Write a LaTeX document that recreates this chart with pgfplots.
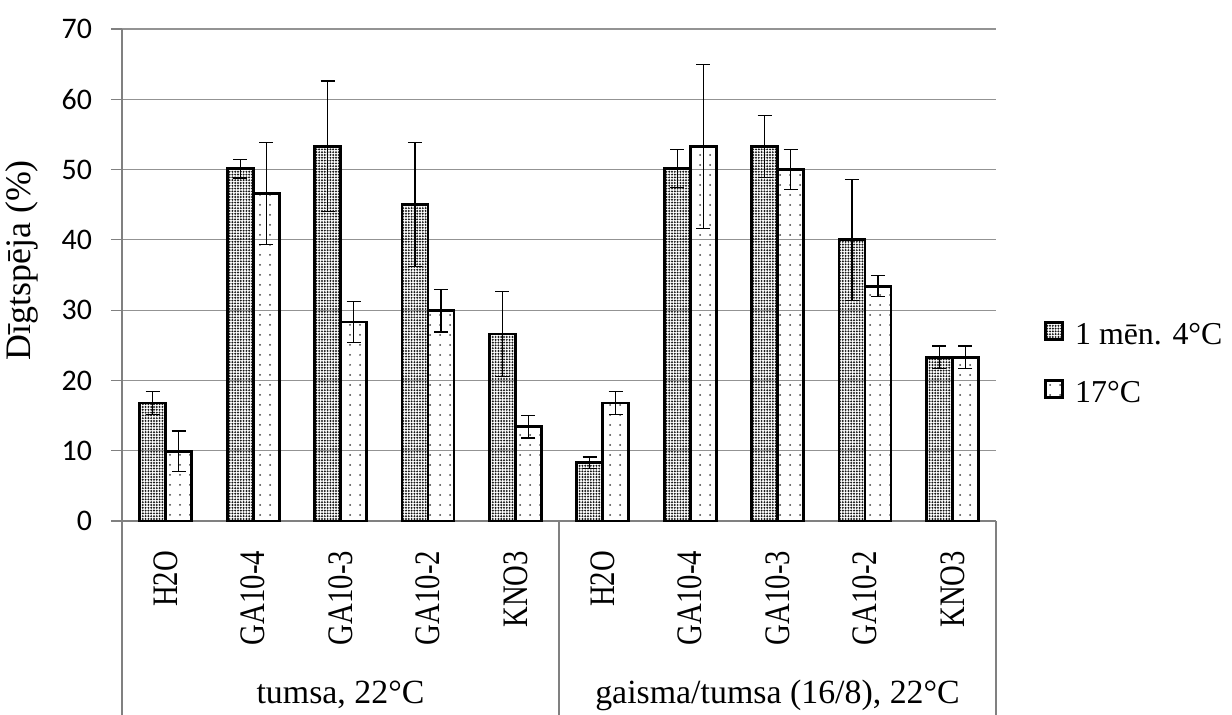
\documentclass[border=0pt]{standalone}
\usepackage{pgfplots}
\pgfplotsset{compat=1.18}
\usepackage{pgfplotstable}
\usepackage{fontspec}
\setmainfont{Liberation Serif}
\newfontfamily\carlito{Carlito}
\newfontfamily\condserif[FakeStretch=0.8]{Liberation Serif}
\usetikzlibrary{patterns.meta}

\pgfplotstableread{
x a ae b be
0 16.8 1.6 9.9 2.9
1 50.1 1.3 46.6 7.3
2 53.3 9.3 28.3 2.9
3 45.0 8.8 29.9 3.0
4 26.6 6.0 13.4 1.6
5 8.3 0.8 16.8 1.6
6 50.1 2.7 53.3 11.7
7 53.3 4.4 50.0 2.8
8 40.0 8.6 33.4 1.5
9 23.3 1.6 23.3 1.6
}\datatable

\begin{document}
\begin{tikzpicture}
\path[use as bounding box] (0,0) rectangle (616bp,357.5bp);
\begin{axis}[
  at={(61bp,97bp)}, anchor=south west,
  width=437bp, height=246bp, scale only axis,
  clip=false,
  xmin=-0.5, xmax=9.5,
  ymin=0, ymax=70,
  ytick={0,10,...,70},
  xtick=data,
  xticklabels={H2O,GA10-4,GA10-3,GA10-2,KNO3,H2O,GA10-4,GA10-3,GA10-2,KNO3},
  axis x line*=bottom, axis y line*=left,
  axis line style={gray, line width=0.6bp},
  ymajorgrids,
  major grid style={gray!85, line width=0.6bp},
  tick align=outside,
  major tick length=5.5bp,
  ytick style={gray, line width=0.6bp},
  xtick style={draw=none},
  /pgf/number format/assume math mode=true,
  yticklabel style={font=\fontsize{15}{18}\carlito, xshift=-6bp},
  xticklabel style={font=\fontsize{18}{20}\condserif, yshift=-6bp, rotate=90, anchor=east},
  ylabel={Dīgtspēja (\%)},
  every axis y label/.style={at={(rel axis cs:-0.1144,0.53)}, anchor=center, rotate=90, font=\fontsize{18}{20}\selectfont},
  legend style={at={(1.048,0.318)}, anchor=west, draw=none, fill=none, font=\fontsize{16}{19}\selectfont, row sep=12bp, legend cell align=left,
    nodes={inner sep=2.5bp}, /tikz/every odd column/.style={column sep=3bp}},
  legend image code/.code={\draw[#1] (0bp,-2bp) rectangle (8.5bp,6.5bp);},
]
\addplot[ybar, bar width=13bp, bar shift=-6.5bp, draw=black, line width=1.4bp,
  pattern={Dots[distance=1.4bp, radius=0.55bp]}, pattern color=black!90]
  table[x=x, y=a]{\datatable};
\addlegendentry{1 mēn. 4°C}
\addplot[ybar, bar width=13bp, bar shift=6.5bp, draw=black, line width=1.4bp,
  pattern={Dots[distance=5bp, radius=0.5bp]}, pattern color=black!75]
  table[x=x, y=b]{\datatable};
\addlegendentry{17°C}
\addplot[forget plot, draw=none, mark=none,
  error bars/.cd, y dir=both, y explicit,
  error bar style={draw=black, line width=0.6bp, solid},
  error mark options={rotate=90, draw=black, line width=0.6bp, mark size=3.5bp}]
  table[x expr=\thisrow{x}-0.1487, y=a, y error=ae]{\datatable};
\addplot[forget plot, draw=none, mark=none,
  error bars/.cd, y dir=both, y explicit,
  error bar style={draw=black, line width=0.6bp, solid},
  error mark options={rotate=90, draw=black, line width=0.6bp, mark size=3.5bp}]
  table[x expr=\thisrow{x}+0.1487, y=b, y error=be]{\datatable};
\draw[gray, line width=0.6bp] (rel axis cs:0,0) -- (rel axis cs:0,-0.4);
\draw[gray, line width=0.6bp] (rel axis cs:0.5,0) -- (rel axis cs:0.5,-0.4);
\draw[gray, line width=0.6bp] (rel axis cs:1,0) -- (rel axis cs:1,-0.4);
\node[font=\fontsize{17}{20}\selectfont] at (rel axis cs:0.25,-0.354) {tumsa, 22°C};
\node[font=\fontsize{17}{20}\selectfont] at (rel axis cs:0.75,-0.354) {gaisma/tumsa (16/8), 22°C};
\end{axis}
\end{tikzpicture}
\end{document}
